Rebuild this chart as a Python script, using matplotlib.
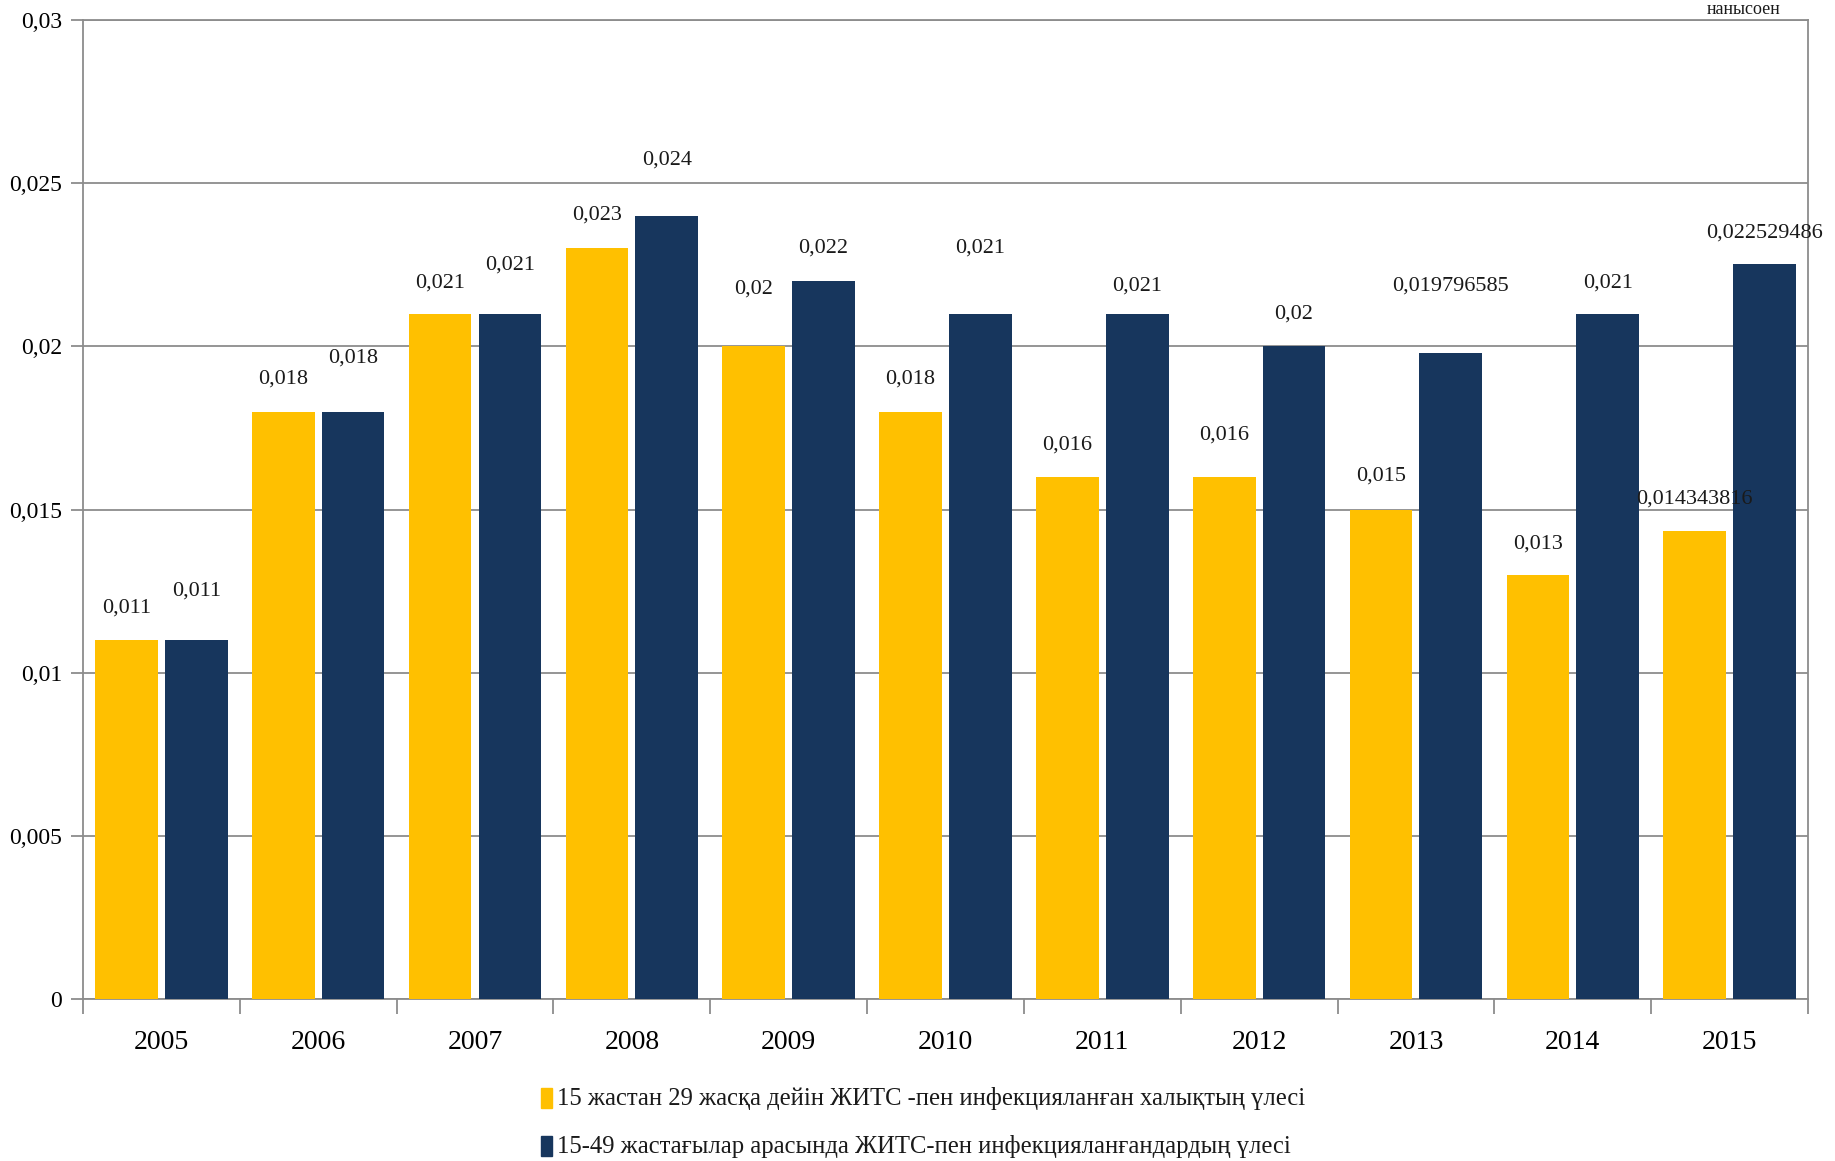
import numpy as np
import matplotlib.pyplot as plt
from matplotlib.patches import Rectangle

plt.rcParams['font.family'] = ['Liberation Serif', 'DejaVu Serif']

years = ['2005', '2006', '2007', '2008', '2009', '2010', '2011', '2012', '2013', '2014', '2015']
share_15_29 = [0.011, 0.018, 0.021, 0.023, 0.020, 0.018, 0.016, 0.016, 0.015, 0.013, 0.014343816]
share_15_49 = [0.011, 0.018, 0.021, 0.024, 0.022, 0.021, 0.021, 0.020, 0.019796585, 0.021, 0.022529486]
labels_15_29 = ['0,011', '0,018', '0,021', '0,023', '0,02', '0,018', '0,016', '0,016', '0,015', '0,013', '0,014343816']
labels_15_49 = ['0,011', '0,018', '0,021', '0,024', '0,022', '0,021', '0,021', '0,02', '0,019796585', '0,021', '0,022529486']
yticks = [0, 0.005, 0.01, 0.015, 0.02, 0.025, 0.03]
ytick_labels = ['0', '0,005', '0,01', '0,015', '0,02', '0,025', '0,03']
legend_names = ['15 жастан 29 жасқа дейін ЖИТС -пен инфекцияланған халықтың үлесі',
                '15-49 жастағылар арасында ЖИТС-пен инфекцияланғандардың үлесі']

# label lift above bar top, in pixels (Excel placed them unevenly)
lift_yellow = [32, 33, 31, 33, 57, 33, 32, 42, 33, 31, 32]
lift_blue = [49, 54, 49, 56, 33, 66, 28, 32, 67, 31, 31]

YELLOW = '#FFC000'
NAVY = '#17365D'
GRID = '#8C8C8C'

fig = plt.figure(figsize=(18.35, 11.61), dpi=100)
ax = fig.add_axes([0.0452, 0.1395, 0.9401, 0.8433])

x = np.arange(len(years))
w = 0.40
gap = 0.045
b1 = ax.bar(x - (w + gap) / 2, share_15_29, w, color=YELLOW, zorder=3)
b2 = ax.bar(x + (w + gap) / 2, share_15_49, w, color=NAVY, zorder=3)

px2pt = 72 / 100
for bars, labs, lifts in [(b1, labels_15_29, lift_yellow), (b2, labels_15_49, lift_blue)]:
    for r, lab, lf in zip(bars, labs, lifts):
        ax.annotate(lab, (r.get_x() + r.get_width() / 2, r.get_height()),
                    xytext=(0, lf * px2pt), textcoords='offset points',
                    ha='center', va='center', fontsize=16, color='#1a1a1a', zorder=5)

ax.set_xlim(-0.5, len(years) - 0.5)
ax.set_ylim(0, 0.03)
ax.set_yticks(yticks)
ax.set_yticklabels(ytick_labels)
ax.yaxis.grid(True, color=GRID, linewidth=1.3)
ax.set_axisbelow(True)
ax.tick_params(axis='y', length=9, width=1.3, color=GRID, labelsize=17, pad=6)

# category labels without ticks, tick marks between categories
ax.set_xticks(x)
ax.set_xticklabels(years)
ax.tick_params(axis='x', which='major', length=0, labelsize=20, pad=22)
ax.set_xticks(np.arange(-0.5, len(years)), minor=True)
ax.tick_params(axis='x', which='minor', length=11, width=1.3, color=GRID)

for s in ax.spines.values():
    s.set_color(GRID)
    s.set_linewidth(1.3)

# legend drawn as two rows below axis
for i, (name, col) in enumerate(zip(legend_names, [YELLOW, NAVY])):
    yy = 1 - (1098 + i * 48) / 1161
    fig.patches.append(Rectangle((541 / 1835, yy - 0.0085), 11 / 1835, 0.017,
                                 transform=fig.transFigure, color=col))
    fig.text(557 / 1835, yy, name, fontsize=17.7, va='center', ha='left', color='#1a1a1a')

# small note in top-right corner
fig.text(0.950, 0.999, 'нанысоен', fontsize=13, ha='center', va='top', color='#1a1a1a')

fig.savefig('out.png', dpi=100)
